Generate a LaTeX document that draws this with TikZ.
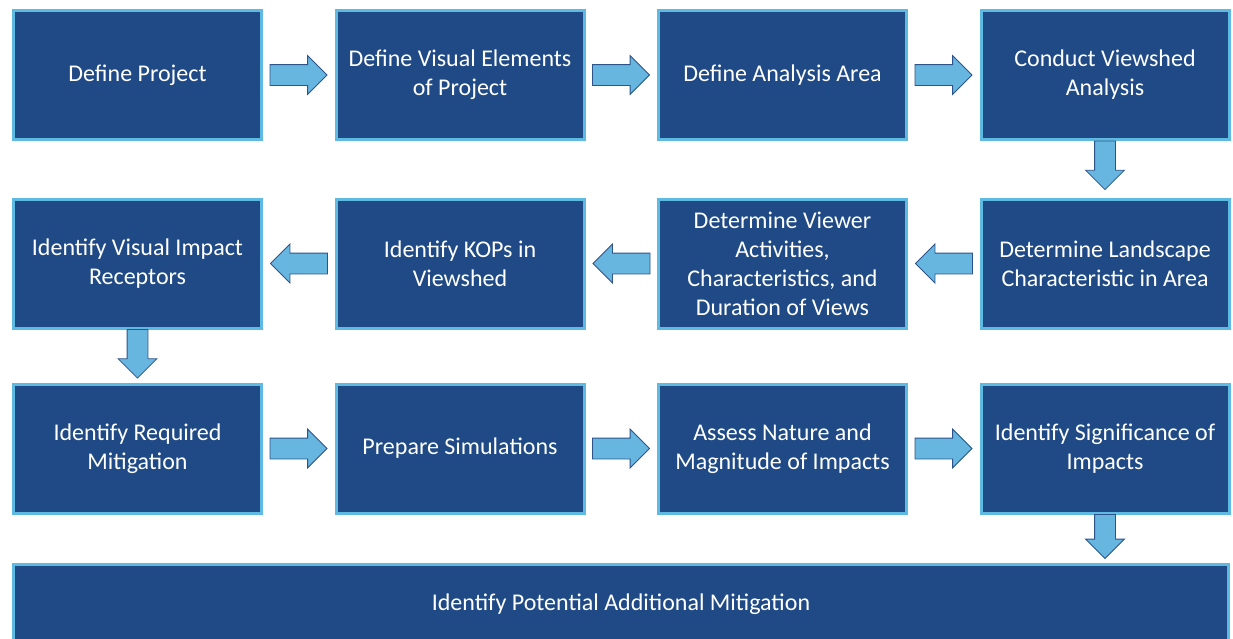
\documentclass[tikz,border=0pt]{standalone}
\usepackage{fontspec}
\setmainfont{Carlito}
\usetikzlibrary{shapes.arrows,calc}
\definecolor{boxfill}{RGB}{31,74,134}
\definecolor{boxline}{RGB}{95,186,226}
\definecolor{arrfill}{RGB}{102,182,224}
\definecolor{arrline}{RGB}{44,84,138}
\tikzset{
  stepbox/.style={draw=boxline, fill=boxfill, line width=2.25pt,
    minimum width=186pt, minimum height=96.75pt, inner sep=0pt,
    align=center, text=white, font=\fontsize{18}{21.75}\selectfont},
  blockarrow/.style={single arrow, draw=arrline, fill=arrfill, line width=0.6pt,
    minimum height=42.75pt, single arrow head extend=6.75pt,
    single arrow head indent=0pt, inner sep=7.5pt, outer sep=0pt, anchor=tail},
  rightarrow/.style={blockarrow},
  leftarrow/.style={blockarrow, rotate=180},
  downarrow/.style={blockarrow, rotate=-90, minimum height=36.5pt},
}
\begin{document}
\begin{tikzpicture}[x=0.75pt,y=-0.75pt]
\useasboundingbox[fill=white] (0,0) rectangle (1233,639);
% row 1
\node[stepbox] (a1) at (137.5,75) {Define Project};
\node[stepbox] (a2) at (460,75) {Define Visual Elements\\of Project};
\node[stepbox] (a3) at (782.5,75) {Define Analysis Area};
\node[stepbox] (a4) at (1105,75) {Conduct Viewshed\\Analysis};
% row 2
\node[stepbox] (b4) at (1105,263.5) {Determine Landscape\\Characteristic in Area};
\node[stepbox] (b3) at (782.5,263.5) {Determine Viewer\\Activities,\\Characteristics, and\\Duration of Views};
\node[stepbox] (b2) at (460,263.5) {Identify KOPs in\\Viewshed};
\node[stepbox] (b1) at (137.5,263.5) {Identify Visual Impact\\Receptors};
% row 3
\node[stepbox] (c1) at (137.5,448.5) {Identify Required\\Mitigation};
\node[stepbox] (c2) at (460,448.5) {Prepare Simulations};
\node[stepbox] (c3) at (782.5,448.5) {Assess Nature and\\Magnitude of Impacts};
\node[stepbox] (c4) at (1105,448.5) {Identify Significance of\\Impacts};
% row 4
\node[stepbox, minimum width=911.25pt, minimum height=60pt] (d) at (621,604) {Identify Potential Additional Mitigation};
% arrows row 1
\node[rightarrow] at ($(a1.east)+(7,0)$) {};
\node[rightarrow] at ($(a2.east)+(7,0)$) {};
\node[rightarrow] at ($(a3.east)+(7,0)$) {};
\node[downarrow] at (a4.south) {};
% arrows row 2
\node[leftarrow] at ($(b4.west)+(-7,0)$) {};
\node[leftarrow] at ($(b3.west)+(-7,0)$) {};
\node[leftarrow] at ($(b2.west)+(-7,0)$) {};
\node[downarrow] at (b1.south) {};
% arrows row 3
\node[rightarrow] at ($(c1.east)+(7,0)$) {};
\node[rightarrow] at ($(c2.east)+(7,0)$) {};
\node[rightarrow] at ($(c3.east)+(7,0)$) {};
\node[downarrow, minimum height=33pt] at (c4.south) {};
\end{tikzpicture}
\end{document}
